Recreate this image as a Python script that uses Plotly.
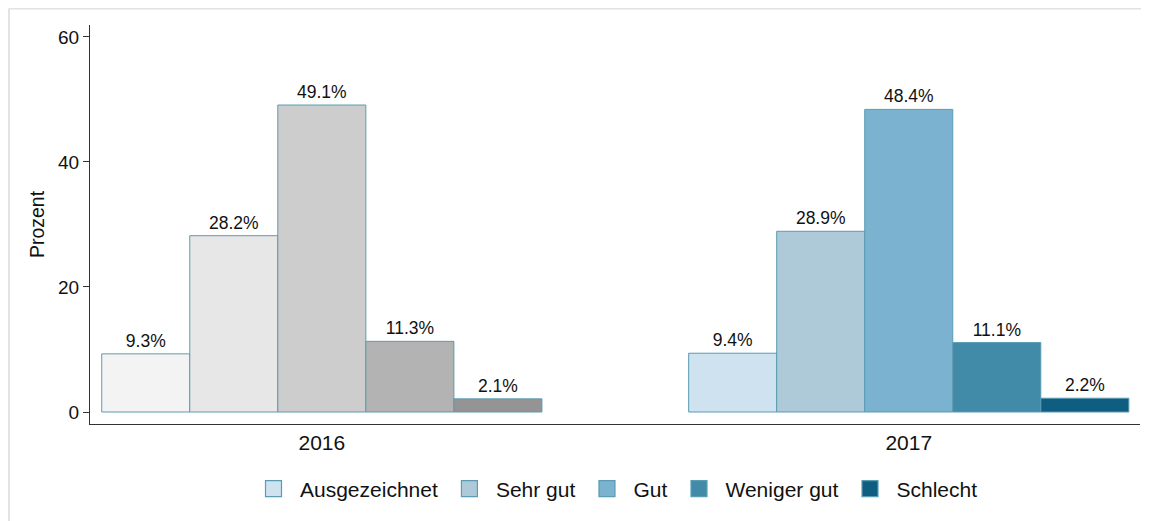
import plotly.graph_objects as go

years = ["2016", "2017"]
categories = ["Ausgezeichnet", "Sehr gut", "Gut", "Weniger gut", "Schlecht"]
values_2016 = [9.3, 28.2, 49.1, 11.3, 2.1]
values_2017 = [9.4, 28.9, 48.4, 11.1, 2.2]
colors_2016 = ["#f3f3f3", "#e7e7e7", "#cdcdcd", "#b3b3b3", "#949494"]
colors_2017 = ["#cfe2f0", "#aecad8", "#7ab2cf", "#418ba9", "#0f5e82"]
outline = "#5a9cb2"
font_family = "Liberation Sans, Arial, sans-serif"

fig = go.Figure()
for i, cat in enumerate(categories):
    for year, vals, cols in [("2016", values_2016, colors_2016),
                             ("2017", values_2017, colors_2017)]:
        fig.add_trace(go.Bar(
            x=[year], y=[vals[i]], name=cat,
            offsetgroup=str(i), legendgroup=cat, showlegend=False,
            marker=dict(color=cols[i], line=dict(color=outline, width=1)),
            text=[f"{vals[i]:.1f}%"], textposition="outside",
            textfont=dict(size=17.5, color="#111111"),
            cliponaxis=False,
        ))
    # legend entry (square swatch in the 2017 colour)
    fig.add_trace(go.Scatter(
        x=[None], y=[None], mode="markers", name=cat, legendgroup=cat,
        showlegend=True,
        marker=dict(symbol="square", size=16, color=colors_2017[i],
                    line=dict(color=outline, width=1.2)),
    ))

fig.update_layout(
    width=1141, height=513,
    margin=dict(l=82, r=9, t=17, b=97),
    paper_bgcolor="white", plot_bgcolor="white",
    font=dict(family=font_family, color="#111111", size=19),
    barmode="group", bargap=0.25, bargroupgap=0,
    showlegend=True,
    legend=dict(orientation="h", x=0.5, xanchor="center", y=-0.163, yanchor="middle",
                font=dict(size=21), traceorder="normal", itemsizing="trace",
                itemwidth=43),
    xaxis=dict(type="category", categoryorder="array", categoryarray=years,
               range=[-0.395, 1.394], showline=True, linecolor="#333333", linewidth=1,
               ticks="", tickfont=dict(size=21), showgrid=False, zeroline=False),
    yaxis=dict(range=[-1.92, 61.9], tickvals=[0, 20, 40, 60], showline=True,
               linecolor="#333333", linewidth=1, ticks="outside", ticklen=6,
               tickcolor="#333333", tickfont=dict(size=19), showgrid=False, zeroline=False,
               title=dict(text="Prozent", font=dict(size=19.5), standoff=8)),
    shapes=[
        dict(type="line", xref="paper", yref="paper",
             x0=-0.0771, x1=1.02, y0=1.0414, y1=1.0414,
             line=dict(color="#e2e2e2", width=2)),
        dict(type="line", xref="paper", yref="paper",
             x0=-0.0771, x1=-0.0771, y0=-0.3, y1=1.0414,
             line=dict(color="#e2e2e2", width=2)),
    ],
)

fig.write_html("out.html")
